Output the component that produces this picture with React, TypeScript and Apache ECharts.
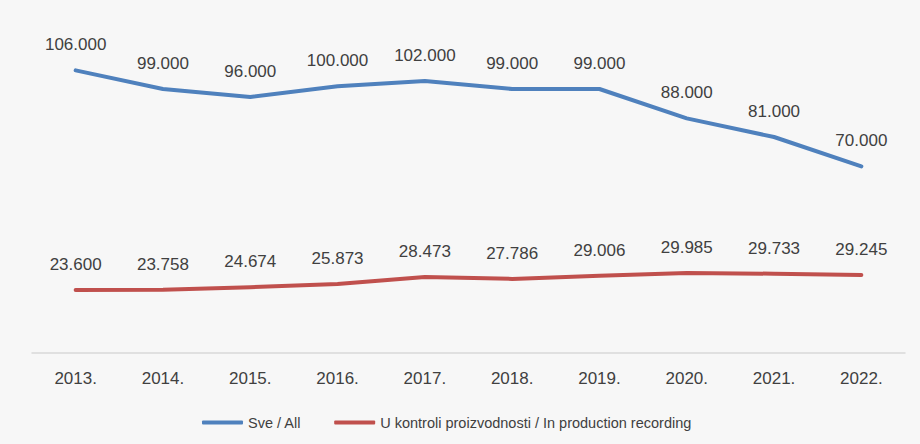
import React, { useEffect, useRef } from "react";
import * as echarts from "echarts";

const years = ["2013.", "2014.", "2015.", "2016.", "2017.", "2018.", "2019.", "2020.", "2021.", "2022."];
const allValues = [106000, 99000, 96000, 100000, 102000, 99000, 99000, 88000, 81000, 70000];
const recordingValues = [23600, 23758, 24674, 25873, 28473, 27786, 29006, 29985, 29733, 29245];
const seriesNames = ["Sve / All", "U kontroli proizvodnosti / In production recording"];

const fmt = (v: number) => String(Math.round(v)).replace(/\B(?=(\d{3})+(?!\d))/g, ".");

export default function App() {
  const ref = useRef<HTMLDivElement>(null);
  useEffect(() => {
    document.body.style.margin = "0";
    const chart = echarts.init(ref.current!, null, { renderer: "svg" });
    const font = "'Liberation Sans', Arial, sans-serif";
    const label = {
      show: true,
      position: "top" as const,
      distance: 17,
      fontSize: 17,
      color: "#404040",
      fontFamily: font,
      formatter: (p: any) => fmt(p.value),
    };
    chart.setOption({
      animation: false,
      backgroundColor: "#f7f7f7",
      grid: { left: 32, right: 15, top: 33, height: 320 },
      xAxis: {
        type: "category",
        data: years,
        boundaryGap: true,
        axisLine: { lineStyle: { color: "#d9d9d9", width: 1.5 } },
        axisTick: { show: false },
        axisLabel: { fontSize: 17, color: "#404040", fontFamily: font, margin: 17 },
      },
      yAxis: {
        type: "value",
        min: 0,
        max: 120000,
        show: false,
        splitLine: { show: false },
      },
      legend: {
        top: 410,
        left: 197,
        itemWidth: 41,
        itemHeight: 4,
        itemGap: 33,
        icon: "roundRect",
        textStyle: { fontSize: 14.5, color: "#404040", fontFamily: font },
        data: seriesNames,
      },
      series: [
        {
          name: seriesNames[0],
          type: "line",
          data: allValues,
          symbol: "circle",
          symbolSize: 0,
          showSymbol: true,
          color: "#4f81bd",
          lineStyle: { width: 4, color: "#4f81bd", cap: "round", join: "round" },
          label,
        },
        {
          name: seriesNames[1],
          type: "line",
          data: recordingValues,
          symbol: "circle",
          symbolSize: 0,
          showSymbol: true,
          color: "#c0504d",
          lineStyle: { width: 4, color: "#c0504d", cap: "round", join: "round" },
          label,
        },
      ],
    });
    return () => chart.dispose();
  }, []);
  return <div ref={ref} style={{ width: 920, height: 444 }} />;
}
